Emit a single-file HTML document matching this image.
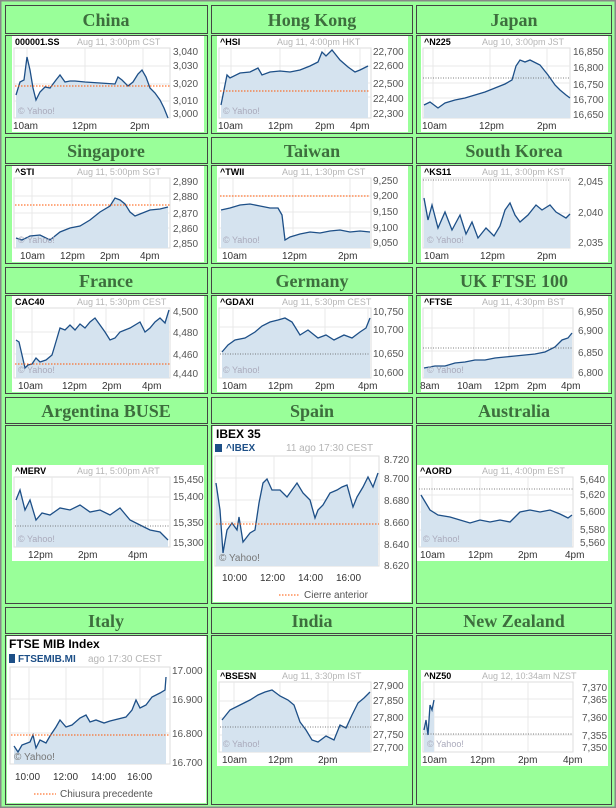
<!DOCTYPE html>
<html><head><meta charset="utf-8"><style>
html,body{margin:0;padding:0;background:#99ff99;}
svg{display:block;}
.h{font-family:"Liberation Serif",serif;font-weight:bold;font-size:18px;fill:#3d6e3d;text-anchor:middle;}
.t{font-family:"Liberation Sans",sans-serif;font-weight:bold;font-size:9px;fill:#000;}
.d{font-family:"Liberation Sans",sans-serif;font-size:9px;fill:#b5b5b5;}
.y{font-family:"Liberation Sans",sans-serif;font-size:10px;fill:#555;}
.x{font-family:"Liberation Sans",sans-serif;font-size:10px;fill:#333;}
.w{font-family:"Liberation Sans",sans-serif;font-size:9px;fill:#aab;}
.s{fill:#d5e3ef;stroke:none;}
.l{fill:none;stroke:#1d4f87;stroke-width:1.3;}
.o{stroke:#ff5500;stroke-width:1;stroke-dasharray:1.5,1.5;}
.k{stroke:#555;stroke-width:0.8;stroke-dasharray:1,1.5;}
.g{stroke:#e8e8e8;stroke-width:1;}
.b{fill:#99ff99;stroke:#444;stroke-width:1;}
.wb{fill:#fff;}
</style></head><body>
<svg width="616" height="808" xmlns="http://www.w3.org/2000/svg">
<rect x="0.5" y="0.5" width="615" height="807" fill="#99ff99" stroke="#888" stroke-width="2"/>
<g>
<rect class="b" x="5.5" y="5.5" width="202" height="28"/><rect class="b" x="211.5" y="5.5" width="201" height="28"/><rect class="b" x="416.5" y="5.5" width="195" height="28"/>
<rect class="b" x="5.5" y="35.5" width="202" height="98"/><rect class="b" x="211.5" y="35.5" width="201" height="98"/><rect class="b" x="416.5" y="35.5" width="195" height="98"/>
<rect class="b" x="5.5" y="137.5" width="202" height="26"/><rect class="b" x="211.5" y="137.5" width="201" height="26"/><rect class="b" x="416.5" y="137.5" width="195" height="26"/>
<rect class="b" x="5.5" y="165.5" width="202" height="98"/><rect class="b" x="211.5" y="165.5" width="201" height="98"/><rect class="b" x="416.5" y="165.5" width="195" height="98"/>
<rect class="b" x="5.5" y="267.5" width="202" height="26"/><rect class="b" x="211.5" y="267.5" width="201" height="26"/><rect class="b" x="416.5" y="267.5" width="195" height="26"/>
<rect class="b" x="5.5" y="295.5" width="202" height="98"/><rect class="b" x="211.5" y="295.5" width="201" height="98"/><rect class="b" x="416.5" y="295.5" width="195" height="98"/>
<rect class="b" x="5.5" y="397.5" width="202" height="26"/><rect class="b" x="211.5" y="397.5" width="201" height="26"/><rect class="b" x="416.5" y="397.5" width="195" height="26"/>
<rect class="b" x="5.5" y="425.5" width="202" height="178"/><rect class="b" x="211.5" y="425.5" width="201" height="178"/><rect class="b" x="416.5" y="425.5" width="195" height="178"/>
<rect class="b" x="5.5" y="607.5" width="202" height="26"/><rect class="b" x="211.5" y="607.5" width="201" height="26"/><rect class="b" x="416.5" y="607.5" width="195" height="26"/>
<rect class="b" x="5.5" y="635.5" width="202" height="169"/><rect class="b" x="211.5" y="635.5" width="201" height="169"/><rect class="b" x="416.5" y="635.5" width="195" height="169"/>
<text class="h" x="106" y="26">China</text><text class="h" x="312" y="26">Hong Kong</text><text class="h" x="514" y="26">Japan</text>
<text class="h" x="106" y="157">Singapore</text><text class="h" x="312" y="157">Taiwan</text><text class="h" x="514" y="157">South Korea</text>
<text class="h" x="106" y="287">France</text><text class="h" x="312" y="287">Germany</text><text class="h" x="514" y="287">UK FTSE 100</text>
<text class="h" x="106" y="417">Argentina BUSE</text><text class="h" x="312" y="417">Spain</text><text class="h" x="514" y="417">Australia</text>
<text class="h" x="106" y="627">Italy</text><text class="h" x="312" y="627">India</text><text class="h" x="514" y="627">New Zealand</text>
</g>

<!-- China -->
<g>
<rect class="wb" x="12" y="36" width="192" height="96"/>
<text class="t" x="15" y="45">000001.SS</text><text class="d" x="77" y="45">Aug 11, 3:00pm CST</text>
<rect x="14" y="48" width="156" height="70" fill="#fff" stroke="#ddd"/>
<line class="g" x1="27" y1="48" x2="27" y2="118"/><line class="g" x1="85" y1="48" x2="85" y2="118"/><line class="g" x1="143" y1="48" x2="143" y2="118"/>
<line class="g" x1="14" y1="66" x2="170" y2="66"/><line class="g" x1="14" y1="84" x2="170" y2="84"/><line class="g" x1="14" y1="101" x2="170" y2="101"/>
<polygon class="s" points="16,95 20,82 24,80 27,57 30,70 33,88 36,100 40,92 45,87 50,88 56,80 60,75 65,82 70,81 75,81 85,82 100,83 115,84 118,77 122,80 128,86 133,82 138,74 142,70 146,77 150,88 155,93 160,100 164,108 168,118 168,118 16,118"/>
<polyline class="l" points="16,95 20,82 24,80 27,57 30,70 33,88 36,100 40,92 45,87 50,88 56,80 60,75 65,82 70,81 75,81 85,82 100,83 115,84 118,77 122,80 128,86 133,82 138,74 142,70 146,77 150,88 155,93 160,100 164,108 168,118"/>
<line class="o" x1="15" y1="86" x2="170" y2="86"/>
<text class="w" x="18" y="114">© Yahoo!</text>
<text class="y" x="173" y="55">3,040</text><text class="y" x="173" y="69">3,030</text><text class="y" x="173" y="87">3,020</text><text class="y" x="173" y="104">3,010</text><text class="y" x="173" y="117">3,000</text>
<text class="x" x="13" y="129">10am</text><text class="x" x="72" y="129">12pm</text><text class="x" x="130" y="129">2pm</text>
</g>

<!-- Hong Kong -->
<g>
<rect class="wb" x="217" y="36" width="191" height="96"/>
<text class="t" x="220" y="45">^HSI</text><text class="d" x="277" y="45">Aug 11, 4:00pm HKT</text>
<rect x="219" y="48" width="152" height="70" fill="#fff" stroke="#ddd"/>
<line class="g" x1="231" y1="48" x2="231" y2="118"/><line class="g" x1="280" y1="48" x2="280" y2="118"/><line class="g" x1="325" y1="48" x2="325" y2="118"/><line class="g" x1="360" y1="48" x2="360" y2="118"/>
<line class="g" x1="219" y1="66" x2="371" y2="66"/><line class="g" x1="219" y1="83" x2="371" y2="83"/><line class="g" x1="219" y1="97" x2="371" y2="97"/>
<polygon class="s" points="221,105 224,90 227,75 230,78 240,73 250,72 258,68 262,75 270,72 280,71 290,72 300,70 310,66 318,62 322,52 326,56 332,50 340,60 348,67 355,72 360,70 368,66 368,118 221,118"/>
<polyline class="l" points="221,105 224,90 227,75 230,78 240,73 250,72 258,68 262,75 270,72 280,71 290,72 300,70 310,66 318,62 322,52 326,56 332,50 340,60 348,67 355,72 360,70 368,66"/>
<line class="o" x1="220" y1="91" x2="370" y2="91"/>
<text class="w" x="223" y="114">© Yahoo!</text>
<text class="y" x="373" y="55">22,700</text><text class="y" x="373" y="69">22,600</text><text class="y" x="373" y="87">22,500</text><text class="y" x="373" y="102">22,400</text><text class="y" x="373" y="117">22,300</text>
<text class="x" x="218" y="129">10am</text><text class="x" x="268" y="129">12pm</text><text class="x" x="315" y="129">2pm</text><text class="x" x="350" y="129">4pm</text>
</g>

<!-- Japan -->
<g>
<rect class="wb" x="421" y="36" width="187" height="96"/>
<text class="t" x="424" y="45">^N225</text><text class="d" x="482" y="45">Aug 10, 3:00pm JST</text>
<rect x="423" y="48" width="147" height="70" fill="#fff" stroke="#ddd"/>
<line class="g" x1="433" y1="48" x2="433" y2="118"/><line class="g" x1="490" y1="48" x2="490" y2="118"/><line class="g" x1="547" y1="48" x2="547" y2="118"/>
<line class="g" x1="423" y1="66" x2="570" y2="66"/><line class="g" x1="423" y1="83" x2="570" y2="83"/><line class="g" x1="423" y1="98" x2="570" y2="98"/>
<polygon class="s" points="424,105 430,102 438,108 445,103 455,100 465,98 475,95 485,92 495,88 505,84 512,80 516,66 520,60 525,62 530,60 540,65 548,75 555,85 560,90 566,95 570,98 570,118 424,118"/>
<polyline class="l" points="424,105 430,102 438,108 445,103 455,100 465,98 475,95 485,92 495,88 505,84 512,80 516,66 520,60 525,62 530,60 540,65 548,75 555,85 560,90 566,95 570,98"/>
<line class="k" x1="423" y1="78" x2="570" y2="78"/>
<text class="y" x="573" y="55">16,850</text><text class="y" x="573" y="71">16,800</text><text class="y" x="573" y="88">16,750</text><text class="y" x="573" y="103">16,700</text><text class="y" x="573" y="118">16,650</text>
<text class="x" x="422" y="129">10am</text><text class="x" x="479" y="129">12pm</text><text class="x" x="537" y="129">2pm</text>
</g>

<!-- Singapore -->
<g>
<rect class="wb" x="12" y="166" width="192" height="96"/>
<text class="t" x="15" y="175">^STI</text><text class="d" x="77" y="175">Aug 11, 5:00pm SGT</text>
<rect x="14" y="178" width="156" height="70" fill="#fff" stroke="#ddd"/>
<line class="g" x1="32" y1="178" x2="32" y2="248"/><line class="g" x1="72" y1="178" x2="72" y2="248"/><line class="g" x1="112" y1="178" x2="112" y2="248"/><line class="g" x1="150" y1="178" x2="150" y2="248"/>
<line class="g" x1="14" y1="196" x2="170" y2="196"/><line class="g" x1="14" y1="213" x2="170" y2="213"/><line class="g" x1="14" y1="228" x2="170" y2="228"/>
<polygon class="s" points="16,238 22,240 30,236 40,235 50,240 60,232 70,228 80,226 90,220 100,212 110,206 115,198 120,200 125,204 130,212 135,216 140,214 150,210 160,209 168,207 168,248 16,248"/>
<polyline class="l" points="16,238 22,240 30,236 40,235 50,240 60,232 70,228 80,226 90,220 100,212 110,206 115,198 120,200 125,204 130,212 135,216 140,214 150,210 160,209 168,207"/>
<line class="o" x1="15" y1="205" x2="170" y2="205"/>
<text class="w" x="18" y="243">© Yahoo!</text>
<text class="y" x="173" y="185">2,890</text><text class="y" x="173" y="200">2,880</text><text class="y" x="173" y="217">2,870</text><text class="y" x="173" y="232">2,860</text><text class="y" x="173" y="247">2,850</text>
<text class="x" x="20" y="259">10am</text><text class="x" x="60" y="259">12pm</text><text class="x" x="100" y="259">2pm</text><text class="x" x="140" y="259">4pm</text>
</g>

<!-- Taiwan -->
<g>
<rect class="wb" x="217" y="166" width="191" height="96"/>
<text class="t" x="220" y="175">^TWII</text><text class="d" x="282" y="175">Aug 11, 1:30pm CST</text>
<rect x="219" y="178" width="152" height="70" fill="#fff" stroke="#ddd"/>
<line class="g" x1="233" y1="178" x2="233" y2="248"/><line class="g" x1="293" y1="178" x2="293" y2="248"/><line class="g" x1="350" y1="178" x2="350" y2="248"/>
<line class="g" x1="219" y1="196" x2="371" y2="196"/><line class="g" x1="219" y1="212" x2="371" y2="212"/><line class="g" x1="219" y1="228" x2="371" y2="228"/>
<polygon class="s" points="221,210 230,208 240,205 250,204 260,206 270,208 278,208 282,215 285,240 290,237 300,234 310,232 320,233 330,231 340,230 350,232 360,231 370,232 370,248 221,248"/>
<polyline class="l" points="221,210 230,208 240,205 250,204 260,206 270,208 278,208 282,215 285,240 290,237 300,234 310,232 320,233 330,231 340,230 350,232 360,231 370,232"/>
<line class="o" x1="220" y1="196" x2="370" y2="196"/>
<text class="w" x="223" y="243">© Yahoo!</text>
<text class="y" x="373" y="184">9,250</text><text class="y" x="373" y="199">9,200</text><text class="y" x="373" y="215">9,150</text><text class="y" x="373" y="231">9,100</text><text class="y" x="373" y="246">9,050</text>
<text class="x" x="222" y="259">10am</text><text class="x" x="282" y="259">12pm</text><text class="x" x="338" y="259">2pm</text>
</g>

<!-- South Korea -->
<g>
<rect class="wb" x="421" y="166" width="187" height="96"/>
<text class="t" x="424" y="175">^KS11</text><text class="d" x="482" y="175">Aug 11, 3:00pm KST</text>
<rect x="423" y="178" width="147" height="70" fill="#fff" stroke="#ddd"/>
<line class="g" x1="433" y1="178" x2="433" y2="248"/><line class="g" x1="490" y1="178" x2="490" y2="248"/><line class="g" x1="547" y1="178" x2="547" y2="248"/>
<line class="g" x1="423" y1="213" x2="570" y2="213"/>
<polygon class="s" points="424,198 428,220 432,205 438,228 445,212 452,230 460,215 466,234 472,222 478,238 486,228 494,236 500,226 505,210 510,203 515,215 520,222 528,215 536,205 542,210 550,205 556,212 566,218 570,214 570,248 424,248"/>
<polyline class="l" points="424,198 428,220 432,205 438,228 445,212 452,230 460,215 466,234 472,222 478,238 486,228 494,236 500,226 505,210 510,203 515,215 520,222 528,215 536,205 542,210 550,205 556,212 566,218 570,214"/>
<line class="k" x1="423" y1="180" x2="570" y2="180"/>
<text class="w" x="427" y="243">© Yahoo!</text>
<text class="y" x="578" y="185">2,045</text><text class="y" x="578" y="216">2,040</text><text class="y" x="578" y="246">2,035</text>
<text class="x" x="424" y="259">10am</text><text class="x" x="480" y="259">12pm</text><text class="x" x="537" y="259">2pm</text>
</g>

<!-- France -->
<g>
<rect class="wb" x="12" y="296" width="192" height="96"/>
<text class="t" x="15" y="305">CAC40</text><text class="d" x="77" y="305">Aug 11, 5:30pm CEST</text>
<rect x="14" y="308" width="156" height="70" fill="#fff" stroke="#ddd"/>
<line class="g" x1="32" y1="308" x2="32" y2="378"/><line class="g" x1="74" y1="308" x2="74" y2="378"/><line class="g" x1="106" y1="308" x2="106" y2="378"/><line class="g" x1="144" y1="308" x2="144" y2="378"/>
<line class="g" x1="14" y1="332" x2="170" y2="332"/><line class="g" x1="14" y1="354" x2="170" y2="354"/>
<polygon class="s" points="16,340 19,342 22,355 25,368 28,365 32,364 36,358 40,362 46,360 52,355 55,345 60,328 65,330 70,325 75,330 80,324 85,328 90,322 95,318 100,325 105,332 110,340 115,338 120,332 125,330 130,328 140,322 145,332 150,328 155,322 160,318 165,323 169,310 169,378 16,378"/>
<polyline class="l" points="16,340 19,342 22,355 25,368 28,365 32,364 36,358 40,362 46,360 52,355 55,345 60,328 65,330 70,325 75,330 80,324 85,328 90,322 95,318 100,325 105,332 110,340 115,338 120,332 125,330 130,328 140,322 145,332 150,328 155,322 160,318 165,323 169,310"/>
<line class="o" x1="15" y1="364" x2="170" y2="364"/>
<text class="w" x="18" y="373">© Yahoo!</text>
<text class="y" x="173" y="315">4,500</text><text class="y" x="173" y="336">4,480</text><text class="y" x="173" y="358">4,460</text><text class="y" x="173" y="377">4,440</text>
<text class="x" x="18" y="389">10am</text><text class="x" x="62" y="389">12pm</text><text class="x" x="102" y="389">2pm</text><text class="x" x="142" y="389">4pm</text>
</g>

<!-- Germany -->
<g>
<rect class="wb" x="217" y="296" width="191" height="96"/>
<text class="t" x="220" y="305">^GDAXI</text><text class="d" x="282" y="305">Aug 11, 5:30pm CEST</text>
<rect x="219" y="308" width="152" height="70" fill="#fff" stroke="#ddd"/>
<line class="g" x1="233" y1="308" x2="233" y2="378"/><line class="g" x1="280" y1="308" x2="280" y2="378"/><line class="g" x1="325" y1="308" x2="325" y2="378"/><line class="g" x1="368" y1="308" x2="368" y2="378"/>
<line class="g" x1="219" y1="327" x2="371" y2="327"/><line class="g" x1="219" y1="351" x2="371" y2="351"/>
<polygon class="s" points="222,352 228,345 235,340 245,338 255,332 262,326 270,322 278,320 285,318 292,322 300,335 308,330 318,338 326,335 334,340 344,335 352,338 360,332 366,328 370,318 370,378 222,378"/>
<polyline class="l" points="222,352 228,345 235,340 245,338 255,332 262,326 270,322 278,320 285,318 292,322 300,335 308,330 318,338 326,335 334,340 344,335 352,338 360,332 366,328 370,318"/>
<line class="k" x1="220" y1="354" x2="370" y2="354"/>
<text class="w" x="223" y="373">© Yahoo!</text>
<text class="y" x="373" y="315">10,750</text><text class="y" x="373" y="333">10,700</text><text class="y" x="373" y="357">10,650</text><text class="y" x="373" y="376">10,600</text>
<text class="x" x="222" y="389">10am</text><text class="x" x="268" y="389">12pm</text><text class="x" x="315" y="389">2pm</text><text class="x" x="358" y="389">4pm</text>
</g>

<!-- UK -->
<g>
<rect class="wb" x="421" y="296" width="187" height="96"/>
<text class="t" x="424" y="305">^FTSE</text><text class="d" x="482" y="305">Aug 11, 4:30pm BST</text>
<rect x="423" y="308" width="150" height="70" fill="#fff" stroke="#ddd"/>
<line class="g" x1="432" y1="308" x2="432" y2="378"/><line class="g" x1="474" y1="308" x2="474" y2="378"/><line class="g" x1="509" y1="308" x2="509" y2="378"/><line class="g" x1="543" y1="308" x2="543" y2="378"/>
<line class="g" x1="423" y1="328" x2="573" y2="328"/><line class="g" x1="423" y1="351" x2="573" y2="351"/>
<polygon class="s" points="424,368 435,366 445,366 455,363 465,362 475,360 485,360 495,358 505,357 515,356 525,355 535,354 545,352 555,347 562,340 568,338 572,333 572,378 424,378"/>
<polyline class="l" points="424,368 435,366 445,366 455,363 465,362 475,360 485,360 495,358 505,357 515,356 525,355 535,354 545,352 555,347 562,340 568,338 572,333"/>
<line class="k" x1="423" y1="348" x2="573" y2="348"/>
<text class="w" x="427" y="373">© Yahoo!</text>
<text class="y" x="578" y="315">6,950</text><text class="y" x="578" y="334">6,900</text><text class="y" x="578" y="356">6,850</text><text class="y" x="578" y="376">6,800</text>
<text class="x" x="420" y="389">8am</text><text class="x" x="457" y="389">10am</text><text class="x" x="494" y="389">12pm</text><text class="x" x="527" y="389">2pm</text><text class="x" x="561" y="389">4pm</text>
</g>

<!-- Argentina -->
<g>
<rect class="wb" x="12" y="465" width="192" height="96"/>
<text class="t" x="15" y="474">^MERV</text><text class="d" x="77" y="474">Aug 11, 5:00pm ART</text>
<rect x="14" y="477" width="156" height="70" fill="#fff" stroke="#ddd"/>
<line class="g" x1="52" y1="477" x2="52" y2="547"/><line class="g" x1="100" y1="477" x2="100" y2="547"/><line class="g" x1="148" y1="477" x2="148" y2="547"/>
<line class="g" x1="14" y1="497" x2="170" y2="497"/><line class="g" x1="14" y1="520" x2="170" y2="520"/>
<polygon class="s" points="16,500 20,490 25,510 30,500 36,520 42,513 50,515 60,508 70,510 80,505 90,512 100,510 110,515 120,508 130,520 140,525 150,530 160,532 168,540 168,547 16,547"/>
<polyline class="l" points="16,500 20,490 25,510 30,500 36,520 42,513 50,515 60,508 70,510 80,505 90,512 100,510 110,515 120,508 130,520 140,525 150,530 160,532 168,540"/>
<line class="k" x1="15" y1="526" x2="170" y2="526"/>
<text class="w" x="18" y="542">© Yahoo!</text>
<text class="y" x="173" y="483">15,450</text><text class="y" x="173" y="500">15,400</text><text class="y" x="173" y="526">15,350</text><text class="y" x="173" y="546">15,300</text>
<text class="x" x="28" y="558">12pm</text><text class="x" x="78" y="558">2pm</text><text class="x" x="128" y="558">4pm</text>
</g>

<!-- Spain -->
<g>
<rect class="wb" x="213" y="426" width="198" height="176"/>
<text class="t" x="216" y="438" style="font-size:12px">IBEX 35</text>
<rect x="215" y="444" width="7" height="8" fill="#1d4f87"/>
<text class="t" x="226" y="451" style="fill:#1d4f87;font-size:10px">^IBEX</text>
<text class="d" x="286" y="451" style="font-size:10px">11 ago 17:30 CEST</text>
<rect x="215" y="456" width="164" height="110" fill="#fff" stroke="#ddd"/>
<line class="g" x1="236" y1="456" x2="236" y2="566"/><line class="g" x1="274" y1="456" x2="274" y2="566"/><line class="g" x1="312" y1="456" x2="312" y2="566"/><line class="g" x1="350" y1="456" x2="350" y2="566"/>
<line class="g" x1="215" y1="478" x2="379" y2="478"/><line class="g" x1="215" y1="500" x2="379" y2="500"/><line class="g" x1="215" y1="522" x2="379" y2="522"/><line class="g" x1="215" y1="544" x2="379" y2="544"/>
<polygon class="s" points="216,483 220,510 223,553 227,530 232,523 237,530 239,517 243,542 250,533 255,530 259,503 263,483 267,479 272,490 280,490 287,497 297,483 303,493 310,500 315,518 318,510 323,505 330,493 337,490 342,487 347,485 353,507 357,497 363,487 368,477 373,487 378,473 378,566 216,566"/>
<polyline class="l" points="216,483 220,510 223,553 227,530 232,523 237,530 239,517 243,542 250,533 255,530 259,503 263,483 267,479 272,490 280,490 287,497 297,483 303,493 310,500 315,518 318,510 323,505 330,493 337,490 342,487 347,485 353,507 357,497 363,487 368,477 373,487 378,473"/>
<line class="o" x1="216" y1="524" x2="379" y2="524"/>
<text class="w" x="219" y="561" style="font-size:10px;fill:#777">© Yahoo!</text>
<text class="y" x="384" y="463">8.720</text><text class="y" x="384" y="482">8.700</text><text class="y" x="384" y="504">8.680</text><text class="y" x="384" y="526">8.660</text><text class="y" x="384" y="548">8.640</text><text class="y" x="384" y="569">8.620</text>
<text class="x" x="222" y="581">10:00</text><text class="x" x="260" y="581">12:00</text><text class="x" x="298" y="581">14:00</text><text class="x" x="336" y="581">16:00</text>
<line class="o" x1="279" y1="595" x2="300" y2="595"/><text class="y" x="304" y="598">Cierre anterior</text>
</g>

<!-- Australia -->
<g>
<rect class="wb" x="417" y="465" width="191" height="96"/>
<text class="t" x="420" y="474">^AORD</text><text class="d" x="482" y="474">Aug 11, 4:00pm EST</text>
<rect x="419" y="477" width="154" height="70" fill="#fff" stroke="#ddd"/>
<line class="g" x1="432" y1="477" x2="432" y2="547"/><line class="g" x1="480" y1="477" x2="480" y2="547"/><line class="g" x1="528" y1="477" x2="528" y2="547"/>
<line class="g" x1="419" y1="495" x2="573" y2="495"/><line class="g" x1="419" y1="512" x2="573" y2="512"/><line class="g" x1="419" y1="530" x2="573" y2="530"/>
<polygon class="s" points="421,495 430,510 438,515 450,517 460,520 470,523 480,520 490,522 500,520 510,522 520,512 530,510 540,512 550,510 560,514 568,518 572,515 572,547 421,547"/>
<polyline class="l" points="421,495 430,510 438,515 450,517 460,520 470,523 480,520 490,522 500,520 510,522 520,512 530,510 540,512 550,510 560,514 568,518 572,515"/>
<line class="k" x1="419" y1="489" x2="573" y2="489"/>
<text class="w" x="423" y="542">© Yahoo!</text>
<text class="y" x="580" y="483">5,640</text><text class="y" x="580" y="498">5,620</text><text class="y" x="580" y="515">5,600</text><text class="y" x="580" y="533">5,580</text><text class="y" x="580" y="546">5,560</text>
<text class="x" x="420" y="558">10am</text><text class="x" x="468" y="558">12pm</text><text class="x" x="518" y="558">2pm</text><text class="x" x="565" y="558">4pm</text>
</g>

<!-- Italy -->
<g>
<rect class="wb" x="7" y="636" width="199" height="167"/>
<text class="t" x="9" y="648" style="font-size:12px">FTSE MIB Index</text>
<rect x="9" y="654" width="6" height="9" fill="#1d4f87"/>
<text class="t" x="18" y="662" style="fill:#1d4f87;font-size:10px">FTSEMIB.MI</text>
<text class="d" x="88" y="662" style="font-size:10px">ago 17:30 CEST</text>
<rect x="10" y="667" width="160" height="97" fill="#fff" stroke="#ddd"/>
<line class="g" x1="29" y1="667" x2="29" y2="764"/><line class="g" x1="66" y1="667" x2="66" y2="764"/><line class="g" x1="103" y1="667" x2="103" y2="764"/><line class="g" x1="140" y1="667" x2="140" y2="764"/>
<line class="g" x1="10" y1="699" x2="170" y2="699"/><line class="g" x1="10" y1="733" x2="170" y2="733"/>
<polygon class="s" points="14,746 18,752 22,745 30,742 33,735 36,748 40,740 46,743 50,736 56,727 60,720 66,727 72,725 80,718 86,715 90,722 96,720 104,723 110,721 126,717 132,710 136,700 140,708 146,705 152,697 160,693 165,690 166,677 166,764 14,764"/>
<polyline class="l" points="14,746 18,752 22,745 30,742 33,735 36,748 40,740 46,743 50,736 56,727 60,720 66,727 72,725 80,718 86,715 90,722 96,720 104,723 110,721 126,717 132,710 136,700 140,708 146,705 152,697 160,693 165,690 166,677"/>
<line class="o" x1="11" y1="735" x2="170" y2="735"/>
<text class="w" x="14" y="760" style="font-size:10px;fill:#777">© Yahoo!</text>
<text class="y" x="172" y="674">17.000</text><text class="y" x="172" y="703">16.900</text><text class="y" x="172" y="737">16.800</text><text class="y" x="172" y="766">16.700</text>
<text class="x" x="15" y="780">10:00</text><text class="x" x="53" y="780">12:00</text><text class="x" x="91" y="780">14:00</text><text class="x" x="127" y="780">16:00</text>
<line class="o" x1="34" y1="794" x2="56" y2="794"/><text class="y" x="60" y="797">Chiusura precedente</text>
</g>

<!-- India -->
<g>
<rect class="wb" x="217" y="670" width="191" height="96"/>
<text class="t" x="220" y="679">^BSESN</text><text class="d" x="282" y="679">Aug 11, 3:30pm IST</text>
<rect x="219" y="682" width="152" height="70" fill="#fff" stroke="#ddd"/>
<line class="g" x1="234" y1="682" x2="234" y2="752"/><line class="g" x1="280" y1="682" x2="280" y2="752"/><line class="g" x1="328" y1="682" x2="328" y2="752"/>
<line class="g" x1="219" y1="701" x2="371" y2="701"/><line class="g" x1="219" y1="718" x2="371" y2="718"/><line class="g" x1="219" y1="735" x2="371" y2="735"/>
<polygon class="s" points="222,720 230,710 240,705 250,700 258,695 265,692 272,690 280,696 288,700 294,705 300,722 306,730 312,740 318,742 326,736 334,740 340,725 346,728 352,715 358,703 364,698 370,692 370,752 222,752"/>
<polyline class="l" points="222,720 230,710 240,705 250,700 258,695 265,692 272,690 280,696 288,700 294,705 300,722 306,730 312,740 318,742 326,736 334,740 340,725 346,728 352,715 358,703 364,698 370,692"/>
<line class="k" x1="220" y1="727" x2="371" y2="727"/>
<text class="w" x="223" y="747">© Yahoo!</text>
<text class="y" x="373" y="689">27,900</text><text class="y" x="373" y="704">27,850</text><text class="y" x="373" y="721">27,800</text><text class="y" x="373" y="738">27,750</text><text class="y" x="373" y="751">27,700</text>
<text class="x" x="222" y="763">10am</text><text class="x" x="268" y="763">12pm</text><text class="x" x="318" y="763">2pm</text>
</g>

<!-- New Zealand -->
<g>
<rect class="wb" x="421" y="670" width="187" height="96"/>
<text class="t" x="424" y="679">^NZ50</text><text class="d" x="482" y="679">Aug 12, 10:34am NZST</text>
<rect x="423" y="682" width="150" height="70" fill="#fff" stroke="#ddd"/>
<line class="g" x1="434" y1="682" x2="434" y2="752"/><line class="g" x1="482" y1="682" x2="482" y2="752"/><line class="g" x1="528" y1="682" x2="528" y2="752"/>
<line class="g" x1="423" y1="699" x2="573" y2="699"/><line class="g" x1="423" y1="717" x2="573" y2="717"/><line class="g" x1="423" y1="735" x2="573" y2="735"/>
<polygon class="s" points="424,730 426,720 428,735 430,705 432,710 434,700 434,752 424,752"/>
<polyline class="l" points="424,730 426,720 428,735 430,705 432,710 434,700"/>
<line class="k" x1="423" y1="734" x2="573" y2="734"/>
<text class="w" x="427" y="747">© Yahoo!</text>
<text class="y" x="582" y="691">7,370</text><text class="y" x="582" y="703">7,365</text><text class="y" x="582" y="721">7,360</text><text class="y" x="582" y="739">7,355</text><text class="y" x="582" y="751">7,350</text>
<text class="x" x="422" y="763">10am</text><text class="x" x="470" y="763">12pm</text><text class="x" x="518" y="763">2pm</text><text class="x" x="563" y="763">4pm</text>
</g>
</svg>
</body></html>
